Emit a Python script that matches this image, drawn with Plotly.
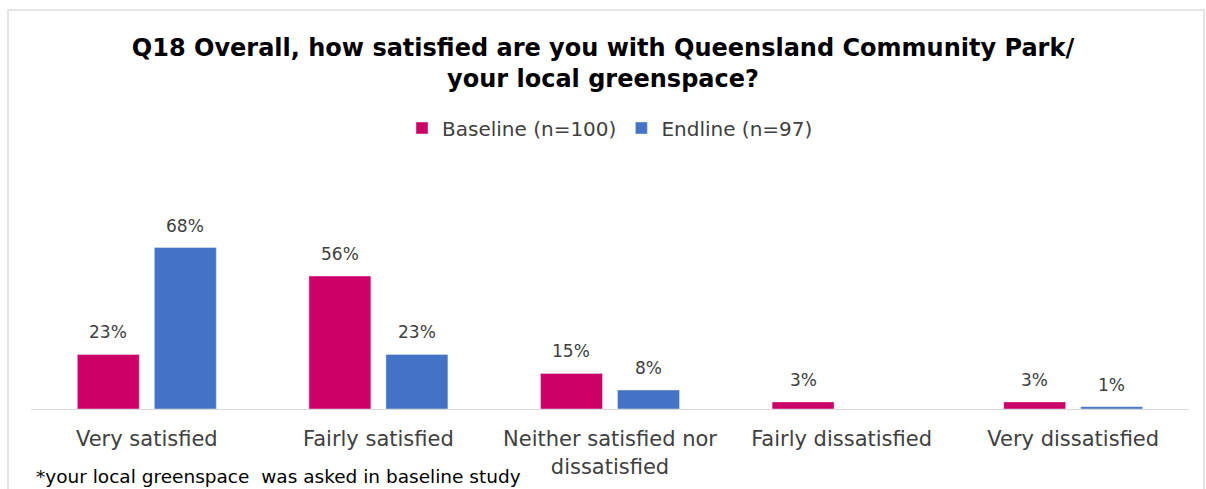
import plotly.graph_objects as go

categories = ["Very satisfied", "Fairly satisfied", "Neither satisfied nor<br>dissatisfied",
              "Fairly dissatisfied", "Very dissatisfied"]
baseline = [23, 56, 15, 3, 3]
endline = [68, 23, 8, None, 1]
baseline_name = "Baseline (n=100)"
endline_name = "Endline (n=97)"
title_text = "Q18 Overall, how satisfied are you with Queensland Community Park/<br>your local greenspace?"
footnote = "*your local greenspace  was asked in baseline study"

FONT = "DejaVu Sans"
TXT = "#404040"

# plot area geometry (pixels)
L, R, T, B = 31, 17, 219, 80
W, H = 1206, 489
PW = W - L - R
PH = H - T - B
BARGAP = 0.335
GROUPGAP = 0.195
cat_w = PW / len(categories)
slot = (1 - BARGAP) * cat_w / 2

fig = go.Figure()
fig.add_trace(go.Bar(x=categories, y=baseline, name=baseline_name, marker_color="#CC0066"))
fig.add_trace(go.Bar(x=categories, y=endline, name=endline_name, marker_color="#4472C4"))

for vals, sign in ((baseline, -1), (endline, 1)):
    for c, v in zip(categories, vals):
        if v is None:
            continue
        fig.add_annotation(x=c, y=v, text=f"{v}%", showarrow=False, xref="x", yref="y",
                           xanchor="center", yanchor="bottom", xshift=sign * slot / 2, yshift=10,
                           font=dict(size=17, color=TXT, family=FONT))

fig.update_layout(
    width=W, height=H,
    margin=dict(l=L, r=R, t=T, b=B, autoexpand=False),
    paper_bgcolor="white", plot_bgcolor="white",
    barmode="group", bargap=BARGAP, bargroupgap=GROUPGAP,
    font=dict(family=FONT, color=TXT),
    title=dict(text=title_text, x=0.5, xanchor="center", y=1 - 56 / H, yanchor="top",
               font=dict(size=24, color="#000000", family=FONT, weight="bold")),
    legend=dict(orientation="h", x=0.5, xanchor="center", y=(H - B - 128) / PH, yanchor="middle",
                font=dict(size=20, color=TXT, family=FONT), itemwidth=30,
                traceorder="normal"),
    showlegend=True,
)
fig.update_xaxes(showline=True, linecolor="#D9D9D9", linewidth=1, ticks="", automargin=False,
                 tickfont=dict(size=21, color=TXT, family=FONT), ticklabelstandoff=11)
fig.update_yaxes(range=[0, 80], visible=False, showgrid=False, zeroline=False, automargin=False)

fig.add_shape(type="rect", xref="paper", yref="paper",
              x0=(8 - L) / PW, x1=(1204 - L) / PW,
              y0=-0.5, y1=(H - B - 10) / PH,
              line=dict(color="#DDDDDD", width=1.5), fillcolor="rgba(0,0,0,0)", layer="below")
fig.add_annotation(text=footnote, xref="paper", yref="paper",
                   x=(34 - L) / PW, y=(H - B - 476) / PH, xanchor="left", yanchor="middle",
                   showarrow=False, font=dict(size=18.5, color="#000000", family=FONT))

fig.write_html("out.html", config={"displayModeBar": False},
               post_script="document.body.style.margin='0';document.body.style.overflow='hidden';")
